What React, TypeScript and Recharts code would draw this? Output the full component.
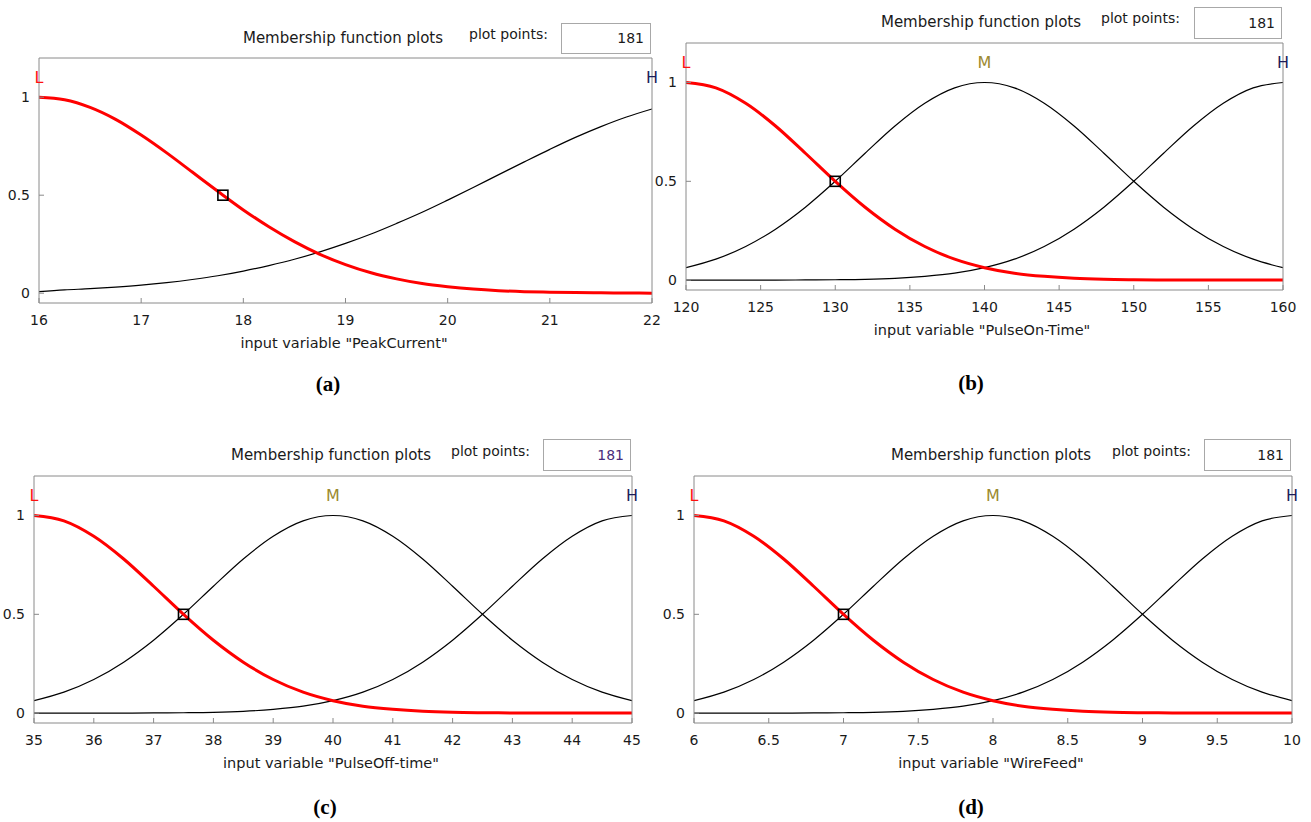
import React from 'react';
import { LineChart, Line, XAxis, YAxis, ReferenceDot } from 'recharts';

// ---------- Data ----------
// (a) PeakCurrent
const xA = [16, 16.25, 16.5, 16.75, 17, 17.25, 17.5, 17.75, 18, 18.25, 18.5, 18.75, 19, 19.25, 19.5, 19.75, 20, 20.25, 20.5, 20.75, 21, 21.25, 21.5, 21.75, 22];
const lowA = [1, 0.987, 0.948, 0.887, 0.807, 0.716, 0.618, 0.52, 0.425, 0.339, 0.263, 0.198, 0.146, 0.104, 0.073, 0.049, 0.033, 0.021, 0.013, 0.008, 0.005, 0.003, 0.002, 0.001, 0];
const highA = [0.008, 0.017, 0.023, 0.031, 0.041, 0.054, 0.07, 0.089, 0.113, 0.141, 0.173, 0.211, 0.254, 0.302, 0.356, 0.413, 0.475, 0.539, 0.605, 0.67, 0.734, 0.795, 0.85, 0.899, 0.94];
const ticksA = [16, 17, 18, 19, 20, 21, 22];

// (b) PulseOn-Time
const xB = [120, 122, 124, 126, 128, 130, 132, 134, 136, 138, 140, 142, 144, 146, 148, 150, 152, 154, 156, 158, 160];
const lowB = [1, 0.973, 0.895, 0.78, 0.642, 0.5, 0.369, 0.258, 0.17, 0.106, 0.063, 0.035, 0.019, 0.009, 0.004, 0.002, 0.001, 0, 0, 0, 0];
const medB = [0.063, 0.106, 0.17, 0.258, 0.369, 0.5, 0.642, 0.78, 0.895, 0.973, 1, 0.973, 0.895, 0.78, 0.642, 0.5, 0.369, 0.258, 0.17, 0.106, 0.063];
const highB = [0, 0, 0, 0, 0.001, 0.002, 0.004, 0.009, 0.019, 0.035, 0.063, 0.106, 0.17, 0.258, 0.369, 0.5, 0.642, 0.78, 0.895, 0.973, 1];
const ticksB = [120, 125, 130, 135, 140, 145, 150, 155, 160];

// (c) PulseOff-time
const xC = [35, 35.5, 36, 36.5, 37, 37.5, 38, 38.5, 39, 39.5, 40, 40.5, 41, 41.5, 42, 42.5, 43, 43.5, 44, 44.5, 45];
const lowC = [1, 0.973, 0.895, 0.78, 0.642, 0.5, 0.369, 0.258, 0.17, 0.106, 0.063, 0.035, 0.019, 0.009, 0.004, 0.002, 0.001, 0, 0, 0, 0];
const medC = [0.063, 0.106, 0.17, 0.258, 0.369, 0.5, 0.642, 0.78, 0.895, 0.973, 1, 0.973, 0.895, 0.78, 0.642, 0.5, 0.369, 0.258, 0.17, 0.106, 0.063];
const highC = [0, 0, 0, 0, 0.001, 0.002, 0.004, 0.009, 0.019, 0.035, 0.063, 0.106, 0.17, 0.258, 0.369, 0.5, 0.642, 0.78, 0.895, 0.973, 1];
const ticksC = [35, 36, 37, 38, 39, 40, 41, 42, 43, 44, 45];

// (d) WireFeed
const xD = [6, 6.2, 6.4, 6.6, 6.8, 7, 7.2, 7.4, 7.6, 7.8, 8, 8.2, 8.4, 8.6, 8.8, 9, 9.2, 9.4, 9.6, 9.8, 10];
const lowD = [1, 0.973, 0.895, 0.78, 0.642, 0.5, 0.369, 0.258, 0.17, 0.106, 0.063, 0.035, 0.019, 0.009, 0.004, 0.002, 0.001, 0, 0, 0, 0];
const medD = [0.063, 0.106, 0.17, 0.258, 0.369, 0.5, 0.642, 0.78, 0.895, 0.973, 1, 0.973, 0.895, 0.78, 0.642, 0.5, 0.369, 0.258, 0.17, 0.106, 0.063];
const highD = [0, 0, 0, 0, 0.001, 0.002, 0.004, 0.009, 0.019, 0.035, 0.063, 0.106, 0.17, 0.258, 0.369, 0.5, 0.642, 0.78, 0.895, 0.973, 1];
const ticksD = [6, 6.5, 7, 7.5, 8, 8.5, 9, 9.5, 10];

const yTicks = [0, 0.5, 1];
const titleText = 'Membership function plots';
const plotPointsLabel = 'plot points:';
const plotPointsValue = '181';

// ---------- Styles ----------
const UI_FONT = "'DejaVu Sans', Verdana, sans-serif";
const AXIS_COLOR = '#8a8a8a';
const TEXT_COLOR = '#1a1a1a';
const Y_DOMAIN: [number, number] = [-0.05, 1.2];

type Curve = { key: string; values: number[]; label: string; labelX: number; color: string; labelColor: string; width: number };

type PanelDef = {
  box: { left: number; right: number; top: number; bottom: number };
  xs: number[];
  ticks: number[];
  curves: Curve[];
  marker: number;
  axisLabel: string;
  tag: string;
  title: { cx: number; cy: number };
  pp: { left: number; cy: number };
  ppBox: { left: number; right: number; top: number; bottom: number; color: string };
  axisLabelPos: { cx: number; cy: number };
  tagPos: { cx: number; cy: number };
};

const PAD_L = 60;
const PAD_R = 24;
const PAD_T = 40;
const PAD_B = 40;
const FRAME_AXIS = 1; // thickness reserved for top / right frame axes

const labelShape = (text: string, color: string) => (props: any) => (
  <text
    x={props.cx}
    y={props.cy}
    textAnchor="middle"
    dominantBaseline="central"
    fill={color}
    fontSize={16}
    fontFamily={UI_FONT}
  >
    {text}
  </text>
);

const squareShape = (props: any) => (
  <rect x={props.cx - 5} y={props.cy - 5} width={10} height={10} fill="none" stroke="#000" strokeWidth={1.6} />
);

const Panel = ({ def }: { def: PanelDef }) => {
  const { box, xs, ticks, curves } = def;
  const rows = xs.map((x, i) => {
    const r: any = { x };
    curves.forEach((c) => {
      r[c.key] = c.values[i];
    });
    return r;
  });
  const domain: [number, number] = [xs[0], xs[xs.length - 1]];
  const w = box.right - box.left + PAD_L + PAD_R;
  const h = box.bottom - box.top + PAD_T + PAD_B;
  const textBase: React.CSSProperties = {
    position: 'absolute',
    fontFamily: UI_FONT,
    fontSize: 15,
    color: TEXT_COLOR,
    whiteSpace: 'nowrap',
    lineHeight: '18px',
  };
  const sorted = [...curves].sort((a, b) => a.width - b.width);
  return (
    <>
      <div style={{ ...textBase, left: def.title.cx, top: def.title.cy - 9, transform: 'translateX(-50%)' }}>{titleText}</div>
      <div style={{ ...textBase, fontSize: 14, left: def.pp.left, top: def.pp.cy - 9 }}>{plotPointsLabel}</div>
      <div
        style={{
          position: 'absolute',
          left: def.ppBox.left,
          top: def.ppBox.top,
          width: def.ppBox.right - def.ppBox.left,
          height: def.ppBox.bottom - def.ppBox.top,
          boxSizing: 'border-box',
          border: '1px solid #a8a8a8',
          background: '#fff',
          fontFamily: UI_FONT,
          fontSize: 14,
          color: def.ppBox.color,
          textAlign: 'right',
          paddingRight: 6,
          lineHeight: `${def.ppBox.bottom - def.ppBox.top - 2}px`,
        }}
      >
        {plotPointsValue}
      </div>
      <div style={{ position: 'absolute', left: box.left - PAD_L, top: box.top - PAD_T }}>
        <LineChart
          width={w}
          height={h}
          data={rows}
          margin={{ top: PAD_T - FRAME_AXIS, right: PAD_R - FRAME_AXIS, bottom: 0, left: 0 }}
        >
          <XAxis
            dataKey="x"
            type="number"
            domain={domain}
            ticks={ticks}
            interval={0}
            allowDataOverflow
            height={PAD_B}
            tickSize={-5}
            tickMargin={17}
            stroke={AXIS_COLOR}
            tick={{ fill: TEXT_COLOR, fontSize: 14, fontFamily: UI_FONT }}
          />
          <XAxis
            xAxisId="top"
            orientation="top"
            dataKey="x"
            type="number"
            domain={domain}
            ticks={ticks}
            interval={0}
            allowDataOverflow
            height={FRAME_AXIS}
            tick={false}
            tickSize={-5}
            stroke={AXIS_COLOR}
          />
          <YAxis
            type="number"
            domain={Y_DOMAIN}
            ticks={yTicks}
            interval={0}
            allowDataOverflow
            width={PAD_L}
            tickSize={-5}
            tickMargin={14}
            stroke={AXIS_COLOR}
            tick={{ fill: TEXT_COLOR, fontSize: 14, fontFamily: UI_FONT }}
          />
          <YAxis
            yAxisId="right"
            orientation="right"
            type="number"
            domain={Y_DOMAIN}
            ticks={yTicks}
            interval={0}
            allowDataOverflow
            width={FRAME_AXIS}
            tick={false}
            tickSize={-5}
            stroke={AXIS_COLOR}
          />
          {/* invisible companion series so that the top and right frame axes are drawn */}
          <Line
            xAxisId="top"
            yAxisId="right"
            dataKey={curves[0].key}
            stroke="none"
            strokeWidth={0}
            dot={false}
            activeDot={false}
            legendType="none"
            isAnimationActive={false}
          />
          {sorted.map((c) => (
            <Line
              key={c.key}
              dataKey={c.key}
              type="monotone"
              stroke={c.color}
              strokeWidth={c.width}
              dot={false}
              activeDot={false}
              isAnimationActive={false}
            />
          ))}
          {curves.map((c) => (
            <ReferenceDot key={'lbl' + c.key} x={c.labelX} y={1.1} ifOverflow="visible" shape={labelShape(c.label, c.labelColor)} />
          ))}
          <ReferenceDot x={def.marker} y={0.5} ifOverflow="visible" shape={squareShape} />
        </LineChart>
      </div>
      <div style={{ ...textBase, fontSize: 14.5, left: def.axisLabelPos.cx, top: def.axisLabelPos.cy - 9, transform: 'translateX(-50%)' }}>
        {def.axisLabel}
      </div>
      <div
        style={{
          position: 'absolute',
          left: def.tagPos.cx,
          top: def.tagPos.cy - 12,
          transform: 'translateX(-50%)',
          fontFamily: "'Liberation Serif', 'Times New Roman', serif",
          fontWeight: 'bold',
          fontSize: 21,
          lineHeight: '24px',
          color: '#000',
        }}
      >
        {def.tag}
      </div>
    </>
  );
};

const RED = '#ff0000';
const BLACK = '#000000';
const L_COLOR = '#ff1010';
const M_COLOR = '#9c8a30';
const H_COLOR = '#1c1c5a';

const panels: PanelDef[] = [
  {
    box: { left: 39, right: 652, top: 58, bottom: 303 },
    xs: xA,
    ticks: ticksA,
    curves: [
      { key: 'L', values: lowA, label: 'L', labelX: 16, color: RED, labelColor: L_COLOR, width: 3 },
      { key: 'H', values: highA, label: 'H', labelX: 22, color: BLACK, labelColor: H_COLOR, width: 1.2 },
    ],
    marker: 17.8,
    axisLabel: 'input variable "PeakCurrent"',
    tag: '(a)',
    title: { cx: 343, cy: 38 },
    pp: { left: 469, cy: 34 },
    ppBox: { left: 561, right: 651, top: 23, bottom: 54, color: TEXT_COLOR },
    axisLabelPos: { cx: 344, cy: 343 },
    tagPos: { cx: 328, cy: 384 },
  },
  {
    box: { left: 686, right: 1283, top: 43, bottom: 290 },
    xs: xB,
    ticks: ticksB,
    curves: [
      { key: 'L', values: lowB, label: 'L', labelX: 120, color: RED, labelColor: L_COLOR, width: 3 },
      { key: 'M', values: medB, label: 'M', labelX: 140, color: BLACK, labelColor: M_COLOR, width: 1.2 },
      { key: 'H', values: highB, label: 'H', labelX: 160, color: BLACK, labelColor: H_COLOR, width: 1.2 },
    ],
    marker: 130,
    axisLabel: 'input variable "PulseOn-Time"',
    tag: '(b)',
    title: { cx: 981, cy: 22 },
    pp: { left: 1101, cy: 18 },
    ppBox: { left: 1194, right: 1282, top: 7, bottom: 39, color: TEXT_COLOR },
    axisLabelPos: { cx: 982, cy: 330 },
    tagPos: { cx: 971, cy: 383 },
  },
  {
    box: { left: 34, right: 632, top: 476, bottom: 723 },
    xs: xC,
    ticks: ticksC,
    curves: [
      { key: 'L', values: lowC, label: 'L', labelX: 35, color: RED, labelColor: L_COLOR, width: 3 },
      { key: 'M', values: medC, label: 'M', labelX: 40, color: BLACK, labelColor: M_COLOR, width: 1.2 },
      { key: 'H', values: highC, label: 'H', labelX: 45, color: BLACK, labelColor: H_COLOR, width: 1.2 },
    ],
    marker: 37.5,
    axisLabel: 'input variable "PulseOff-time"',
    tag: '(c)',
    title: { cx: 331, cy: 455 },
    pp: { left: 451, cy: 451 },
    ppBox: { left: 543, right: 631, top: 439, bottom: 471, color: '#4a2c7c' },
    axisLabelPos: { cx: 331, cy: 763 },
    tagPos: { cx: 325, cy: 807 },
  },
  {
    box: { left: 694, right: 1292, top: 476, bottom: 723 },
    xs: xD,
    ticks: ticksD,
    curves: [
      { key: 'L', values: lowD, label: 'L', labelX: 6, color: RED, labelColor: L_COLOR, width: 3 },
      { key: 'M', values: medD, label: 'M', labelX: 8, color: BLACK, labelColor: M_COLOR, width: 1.2 },
      { key: 'H', values: highD, label: 'H', labelX: 10, color: BLACK, labelColor: H_COLOR, width: 1.2 },
    ],
    marker: 7,
    axisLabel: 'input variable "WireFeed"',
    tag: '(d)',
    title: { cx: 991, cy: 455 },
    pp: { left: 1112, cy: 451 },
    ppBox: { left: 1204, right: 1291, top: 439, bottom: 471, color: TEXT_COLOR },
    axisLabelPos: { cx: 991, cy: 763 },
    tagPos: { cx: 971, cy: 807 },
  },
];

export default function App() {
  return (
    <div style={{ position: 'absolute', left: 0, top: 0, width: 1311, height: 822, background: '#fff', overflow: 'hidden' }}>
      {panels.map((p, i) => (
        <Panel key={i} def={p} />
      ))}
    </div>
  );
}
